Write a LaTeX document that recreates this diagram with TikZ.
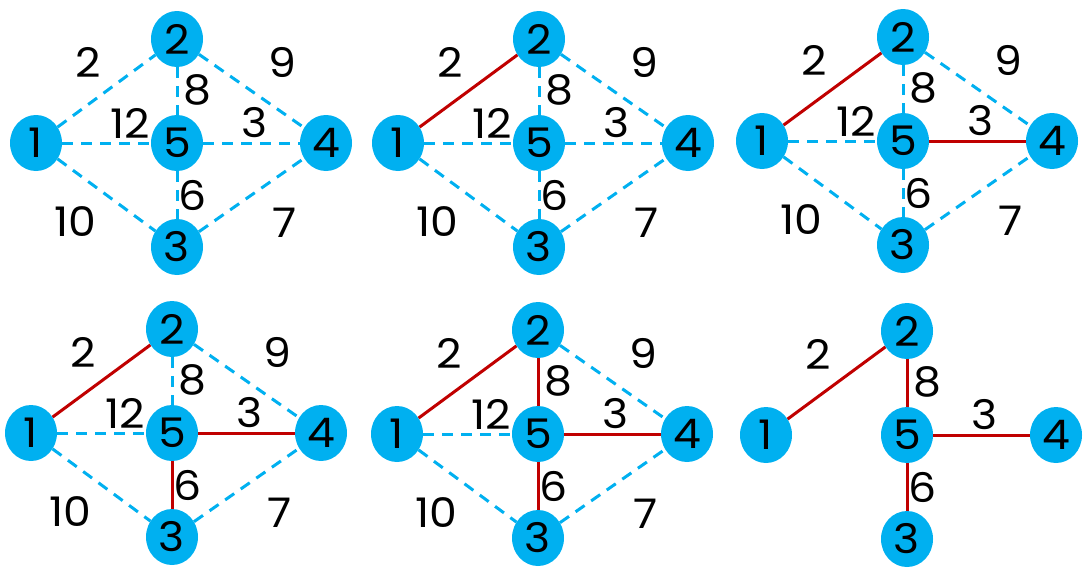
\documentclass[tikz,border=0pt]{standalone}
\usepackage{graphicx}
\usepackage{fontspec}
\setmainfont{Poppins}
\usetikzlibrary{shapes.geometric}
\definecolor{nodeblue}{HTML}{00B0F0}
\definecolor{treered}{HTML}{C00000}
\newcommand\digs[1]{\scalebox{1.3}[1.2]{#1}}
\tikzset{
  vert/.style={ellipse, fill=nodeblue, minimum width=52pt, minimum height=56pt, inner sep=0pt, font=\fontsize{34pt}{34pt}\selectfont},
  wlabel/.style={inner sep=0pt, font=\fontsize{34pt}{34pt}\selectfont},
  cand/.style={draw=nodeblue, line width=3pt, dash pattern=on 11pt off 8pt},
  tree/.style={draw=treered, line width=3pt},
}
% nodes of one panel, centred on vertex 5
\newcommand\mstnodes[3]{%
  \begin{scope}[shift={(#2,#3)}]
    \node[vert] (#1v1) at (-141,0) {\digs{1}};
    \node[vert] (#1v2) at (0,-104) {\digs{2}};
    \node[vert] (#1v5) at (0,0) {\digs{5}};
    \node[vert] (#1v4) at (149,0) {\digs{4}};
    \node[vert] (#1v3) at (0,104) {\digs{3}};
  \end{scope}}
% all weight labels of one panel
\newcommand\mstlabels[3]{%
  \begin{scope}[shift={(#2,#3)}]
    \node[wlabel] (#1w2) at (-89,-81) {\digs{2}};
    \node[wlabel] (#1w9) at (105,-81) {\digs{9}};
    \node[wlabel] (#1w8) at (20,-53) {\digs{8}};
    \node[wlabel] (#1w12) at (-47,-20) {\digs{12}};
    \node[wlabel] (#1w3) at (78,-20) {\digs{3}};
    \node[wlabel] (#1w6) at (16,52) {\digs{6}};
    \node[wlabel] (#1w10) at (-102,79) {\digs{10}};
    \node[wlabel] (#1w7) at (108,80) {\digs{7}};
  \end{scope}}
% edges: #2..#9 = styles of 1-2, 1-5, 1-3, 2-5, 2-4, 5-4, 5-3, 3-4
\newcommand\mstedges[9]{%
  \path[#2] (#1v1) -- (#1v2);
  \path[#3] (#1v1) -- (#1v5);
  \path[#4] (#1v1) -- (#1v3);
  \path[#5] (#1v2) -- (#1v5);
  \path[#6] (#1v2) -- (#1v4);
  \path[#7] (#1v5) -- (#1v4);
  \path[#8] (#1v5) -- (#1v3);
  \path[#9] (#1v3) -- (#1v4);}
\begin{document}
\begin{tikzpicture}[x=1pt,y=-1pt]
  \useasboundingbox (0,0) rectangle (1089,576);
  % panel 1
  \mstnodes{a}{177}{143}
  \mstlabels{a}{177}{143}
  \mstedges{a}{cand}{cand}{cand}{cand}{cand}{cand}{cand}{cand}
  % panel 2
  \mstnodes{b}{539}{143}
  \mstlabels{b}{539}{143}
  \mstedges{b}{tree}{cand}{cand}{cand}{cand}{cand}{cand}{cand}
  % panel 3
  \mstnodes{c}{903}{141}
  \mstlabels{c}{903}{141}
  \mstedges{c}{tree}{cand}{cand}{cand}{cand}{tree}{cand}{cand}
  % panel 4
  \mstnodes{d}{172}{433}
  \mstlabels{d}{172}{433}
  \mstedges{d}{tree}{cand}{cand}{cand}{cand}{tree}{tree}{cand}
  % panel 5
  \mstnodes{e}{538}{434}
  \mstlabels{e}{538}{434}
  \mstedges{e}{tree}{cand}{cand}{tree}{cand}{tree}{tree}{cand}
  % panel 6
  \mstnodes{f}{907}{435}
  \begin{scope}[shift={(907,435)}]
    \node[wlabel] (fw2) at (-89,-81) {\digs{2}};
    \node[wlabel] (fw8) at (20,-53) {\digs{8}};
    \node[wlabel] (fw3) at (78,-20) {\digs{3}};
    \node[wlabel] (fw6) at (16,52) {\digs{6}};
  \end{scope}
  \draw[tree] (fv1) -- (fv2);
  \draw[tree] (fv2) -- (fv5);
  \draw[tree] (fv5) -- (fv4);
  \draw[tree] (fv5) -- (fv3);
\end{tikzpicture}
\end{document}
